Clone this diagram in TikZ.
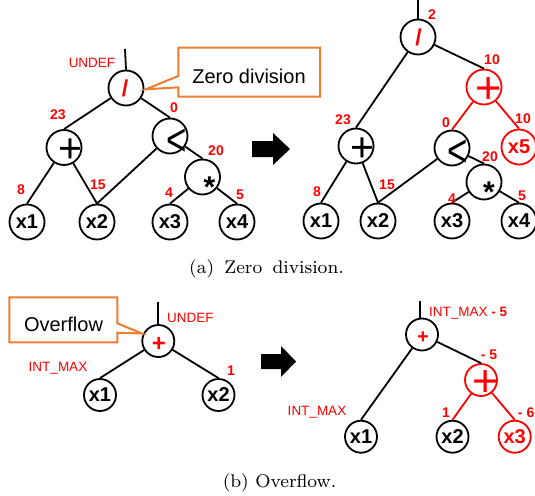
\documentclass[tikz,border=0pt]{standalone}
\usepackage{fontspec}
\newfontfamily\lsans{Liberation Sans}
\usetikzlibrary{calc}
\definecolor{cred}{RGB}{255,0,0}
\definecolor{corange}{RGB}{237,125,49}
\begin{document}
\begin{tikzpicture}[x=1pt,y=-1pt,
  nd/.style={circle,draw,line width=1.8pt,minimum size=35pt,inner sep=0pt,
    font=\lsans\bfseries\fontsize{20}{20}\selectfont},
  ndb/.style={nd,minimum size=32pt},
  rnd/.style={draw=cred,text=cred},
  edge/.style={line width=1.8pt},
  redge/.style={edge,draw=cred},
  num/.style={text=cred,inner sep=0pt,font=\lsans\bfseries\fontsize{14}{14}\selectfont},
  tag/.style={text=cred,inner sep=0pt,font=\lsans\fontsize{13.5}{14}\selectfont},
  sym/.style={inner sep=0pt,anchor=base},
  slash/.style={sym,text=cred,font=\lsans\bfseries\fontsize{23}{23}\selectfont},
  bplus/.style={sym,font=\lsans\fontsize{41}{41}\selectfont},
  rplus/.style={sym,text=cred,font=\lsans\fontsize{45}{45}\selectfont},
  splus/.style={sym,text=cred,font=\lsans\bfseries\fontsize{24}{24}\selectfont},
  less/.style={sym,font=\lsans\fontsize{35}{35}\selectfont},
  star/.style={sym,font=\lsans\bfseries\fontsize{30}{30}\selectfont},
  callout/.style={draw=corange,line width=2pt,fill=white,line join=miter},
  ctext/.style={anchor=base,inner sep=0pt,font=\lsans\fontsize{20}{20}\selectfont},
  bigarrow/.style={fill=black},
  caption/.style={inner sep=0pt}]
\useasboundingbox (0,0) rectangle (535,495);

% ---------- (a) left tree ----------
\coordinate (s1) at (125,49);
\node[nd] (r1) at (126,88) {};
\node[nd] (p1) at (64,147.5) {};
\node[nd] (l1) at (170,136) {};
\node[nd] (m1) at (202.5,177) {};
\node[nd] (a1) at (27,222) {x1};
\node[nd] (b1) at (97,222) {x2};
\node[nd] (c1) at (170,222) {x3};
\node[nd] (d1) at (237,222) {x4};
\node[slash] (r1s) at (125,96.7) {/};
\node[bplus] (p1s) at (70,162.8) {+};
\node[less] (l1s) at (176.5,155.2) {\scalebox{1}[1.3]{<}};
\node[star] (m1s) at (209.5,197.5) {*};
\draw[edge] (s1) -- (r1.north);
\draw[edge] (r1) -- (p1.north);
\draw[edge] (r1) -- (l1.north);
\draw[edge] (p1) -- (a1.north);
\draw[edge] (p1) -- (b1.north);
\draw[edge] (l1) -- (b1.north);
\draw[edge] (l1) -- (m1.north);
\draw[edge] (m1) -- (c1.north);
\draw[edge] (m1) -- (d1.north);
\node[tag] (u1) at (92,63) {UNDEF};
\node[num] (n1a) at (58,115) {23};
\node[num] (n1b) at (174,108) {0};
\node[num] (n1c) at (216,151) {20};
\node[num] (n1d) at (21,190) {8};
\node[num] (n1e) at (98,185) {15};
\node[num] (n1f) at (169,193) {4};
\node[num] (n1g) at (240,195) {5};
% callout
\draw[callout] (178.3,47.7) -- (320,47.7) -- (320,96.7) -- (178.3,96.7) -- (178.3,87.3)
  -- (145.7,89.3) -- (178.3,76) -- cycle;
\node[ctext] (zd) at (249,83.5) {Zero division};
% arrow
\fill[bigarrow] (252,141) -- (273,141) -- (273,133) -- (290,149) -- (273,165) -- (273,157) -- (252,157) -- cycle;

% ---------- (a) right tree ----------
\coordinate (s2) at (418,0);
\node[nd] (R) at (418,37) {};
\node[nd,rnd] (Q) at (484,87) {};
\node[nd] (P) at (356,146) {};
\node[nd] (L) at (452,148) {};
\node[nd,rnd] (X5) at (519,147) {x5};
\node[nd] (M) at (484,182) {};
\node[nd] (A) at (321,221) {x1};
\node[nd] (B) at (378,221) {x2};
\node[nd] (C) at (452,221) {x3};
\node[nd] (D) at (519,221) {x4};
\node[slash] (Rs) at (418.5,45.7) {/};
\node[rplus] (Qs) at (489,103.7) {+};
\node[bplus] (Ps) at (362,161.8) {+};
\node[less] (Ls) at (458,166) {\scalebox{1}[1.3]{<}};
\node[star] (Ms) at (489,202) {*};
\draw[edge] (s2) -- (R.north);
\draw[edge] (R) -- (P.north);
\draw[edge] (R) -- (Q.north);
\draw[redge] (Q) -- (L.north);
\draw[redge] (Q) -- (X5.north);
\draw[edge] (P) -- (A.north);
\draw[edge] (P) -- (B.north);
\draw[edge] (L) -- (B.north);
\draw[edge] (L) -- (M.north);
\draw[edge] (M) -- (C.north);
\draw[edge] (M) -- (D.north);
\node[num] (n2a) at (432,15) {2};
\node[num] (n2b) at (492,60) {10};
\node[num] (n2c) at (343,120) {23};
\node[num] (n2d) at (446,123) {0};
\node[num] (n2e) at (523,119) {10};
\node[num] (n2f) at (490,157) {20};
\node[num] (n2g) at (317,192) {8};
\node[num] (n2h) at (387,185) {15};
\node[num] (n2i) at (452,199) {4};
\node[num] (n2j) at (522,196) {5};

\node[caption] (capa) at (266.5,269)
  {\scalebox{2.3}{\fontsize{8}{9}\selectfont (a)\hspace{0.2em} Zero\hspace{0.2em} division.}};

% ---------- (b) left tree ----------
\coordinate (s3) at (158.3,301.5);
\node[ndb] (R2) at (158.3,341) {};
\node[ndb] (A2) at (100,395) {x1};
\node[ndb] (B2) at (218.5,395) {x2};
\node[splus] (R2s) at (159,351.1) {+};
\draw[edge] (s3) -- (R2.north);
\draw[edge] (R2) -- (A2.north);
\draw[edge] (R2) -- (B2.north);
\node[tag,anchor=west] (u2) at (167,318) {UNDEF};
\node[tag] (im1) at (58,368) {INT\_MAX};
\node[num] (n3a) at (231,371) {1};
\draw[callout] (9.3,297.3) -- (117.3,297.3) -- (117.3,323.3) -- (142,333.5) -- (117.3,332.7)
  -- (117.3,342.3) -- (9.3,342.3) -- cycle;
\node[ctext] (of) at (63.5,331.7) {Overflow};
\fill[bigarrow] (261,354) -- (281,354) -- (281,346) -- (296,361.5) -- (281,377) -- (281,369) -- (261,369) -- cycle;

% ---------- (b) right tree ----------
\coordinate (s4) at (420,300.7);
\node[ndb] (R3) at (422,334.5) {};
\node[ndb,rnd] (Q3) at (481,380) {};
\node[ndb] (A3) at (361,436.7) {x1};
\node[ndb] (B3) at (452.5,436.7) {x2};
\node[ndb,rnd] (C3) at (514.7,436.7) {x3};
\node[splus,font=\lsans\bfseries\fontsize{20}{20}\selectfont] (R3s) at (423,343.1) {+};
\node[rplus] (Q3s) at (486,396.7) {+};
\draw[edge] (s4) -- (s4 |- R3.north);
\draw[edge] (R3) -- (A3.north);
\draw[edge] (R3) -- (Q3.north);
\draw[redge] (Q3) -- (B3.north);
\draw[redge] (Q3) -- (C3.north);
\node[tag,anchor=west] (im2) at (429,313) {INT\_MAX \textbf{- 5}};
\node[num] (n4a) at (489,355) {- 5};
\node[tag] (im3) at (317,412) {INT\_MAX};
\node[num] (n4b) at (446,413) {1};
\node[num,anchor=east] (n4c) at (534.5,413) {- 6};

\node[caption] (capb) at (279.5,483)
  {\scalebox{2.3}{\fontsize{8}{9}\selectfont (b) Overflow.}};
\end{tikzpicture}
\end{document}
